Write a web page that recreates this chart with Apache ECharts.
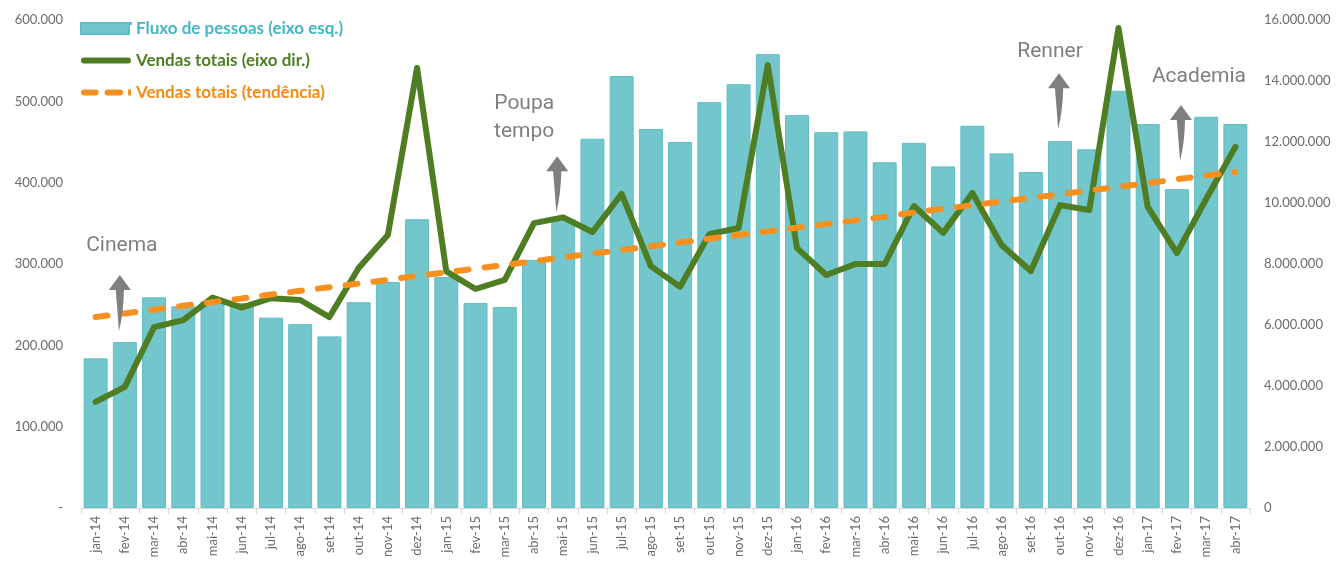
<!DOCTYPE html>
<html>
<head>
<meta charset="utf-8">
<script src="https://cdn.jsdelivr.net/npm/echarts@6/dist/echarts.min.js"></script>
<style>
  html, body { margin: 0; padding: 0; background: #fff; }
  #chart { width: 1338px; height: 565px; }
</style>
</head>
<body>
<div id="chart"></div>
<script>
const meses = [
  "jan-14", "fev-14", "mar-14", "abr-14", "mai-14", "jun-14", "jul-14", "ago-14", "set-14", "out-14", "nov-14", "dez-14",
  "jan-15", "fev-15", "mar-15", "abr-15", "mai-15", "jun-15", "jul-15", "ago-15", "set-15", "out-15", "nov-15", "dez-15",
  "jan-16", "fev-16", "mar-16", "abr-16", "mai-16", "jun-16", "jul-16", "ago-16", "set-16", "out-16", "nov-16", "dez-16",
  "jan-17", "fev-17", "mar-17", "abr-17"
];

// fluxo de pessoas (eixo esq.)
const fluxo = [
  184000, 204000, 259000, 248000, 254000, 252000, 234000, 226000, 211000, 253000, 278000, 355000,
  284000, 252000, 247000, 305000, 355000, 454000, 531000, 466000, 450000, 499000, 521000, 558000,
  483000, 462000, 463000, 425000, 449000, 420000, 470000, 436000, 413000, 451000, 441000, 513000,
  472000, 392000, 481000, 472000
];

// vendas totais (eixo dir.)
const vendas = [
  3480000, 3970000, 5930000, 6160000, 6900000, 6570000, 6880000, 6820000, 6260000, 7870000, 8950000, 14430000,
  7760000, 7180000, 7480000, 9340000, 9530000, 9050000, 10300000, 7930000, 7250000, 8980000, 9180000, 14520000,
  8520000, 7640000, 8000000, 8000000, 9900000, 9020000, 10330000, 8620000, 7770000, 9930000, 9770000, 15740000,
  9870000, 8360000, 10130000, 11840000
];

// vendas totais (tendência)
const tendencia = [
  6260000, 6380000, 6500000, 6630000, 6750000, 6870000, 7000000, 7120000, 7240000, 7360000, 7480000, 7610000,
  7730000, 7850000, 7970000, 8090000, 8220000, 8340000, 8460000, 8580000, 8710000, 8830000, 8950000, 9070000,
  9190000, 9310000, 9430000, 9550000, 9690000, 9810000, 9930000, 10050000, 10170000, 10290000, 10410000, 10530000,
  10650000, 10780000, 10900000, 11020000
];

const anotacoes = [
  { nome: "Cinema", mes: "fev-14", valor: 252000, dx: -5, dist: 15, tx: 2 },
  { nome: "Poupa\ntempo", mes: "mai-15", valor: 398000, dx: -6, dist: 11, tx: -33 },
  { nome: "Renner", mes: "out-16", valor: 500000, dx: -1, dist: 8, tx: -9 },
  { nome: "Academia", mes: "fev-17", valor: 461000, dx: 4, dist: 14, tx: 18 }
];

// seta curva cinza
const seta = "path://M12,0 L24,15 L16.5,15 Q16,38 11,56 Q9.5,36 7.5,15 L0,15 Z";

// ícones da legenda
const iconeLinha = "path://M3,0 H48 A3,3 0 0 1 48,6 H3 A3,3 0 0 1 3,0 Z";
const iconeTracejado = "path://M3,0 H15 A3,3 0 0 1 15,6 H3 A3,3 0 0 1 3,0 Z M27,0 H40 A3,3 0 0 1 40,6 H27 A3,3 0 0 1 27,0 Z M48,0 H51 V6 H48 Z";

function fmt(v) {
  if (v === 0) return "-";
  return String(v).replace(/\B(?=(\d{3})+(?!\d))/g, ".");
}

const chart = echarts.init(document.getElementById("chart"));

const option = {
  animation: false,
  textStyle: { fontFamily: "Lato, 'Open Sans', sans-serif" },
  legend: {
    orient: "vertical",
    left: 80,
    top: 20,
    padding: 0,
    itemWidth: 50,
    itemHeight: 11,
    itemGap: 15,
    textStyle: { fontSize: 17, fontWeight: "bold" },
    data: [
      { name: "Fluxo de pessoas (eixo esq.)", icon: "path://M0,0 H48 V11 H0 Z M49,0 H50 V1 H49 Z", textStyle: { color: "#45B7C4" } },
      { name: "Vendas totais (eixo dir.)", icon: iconeLinha, textStyle: { color: "#4E7D23" } },
      { name: "Vendas totais (tendência)", icon: iconeTracejado, textStyle: { color: "#F58A12" } }
    ]
  },
  grid: { left: 81, right: 88, top: 20, bottom: 57 },
  xAxis: {
    type: "category",
    data: meses,
    boundaryGap: true,
    axisLine: { lineStyle: { color: "#D9D9D9", width: 1 } },
    axisTick: { show: true, length: 6, lineStyle: { color: "#D9D9D9" } },
    axisLabel: { rotate: 90, color: "#6b6b6b", fontSize: 13, margin: 8, interval: 0 }
  },
  yAxis: [
    {
      type: "value",
      min: 0,
      max: 600000,
      interval: 100000,
      splitLine: { show: false },
      axisLine: { show: false },
      axisTick: { show: false },
      axisLabel: { color: "#6b6b6b", fontSize: 13, margin: 18, formatter: fmt }
    },
    {
      type: "value",
      min: 0,
      max: 16000000,
      interval: 2000000,
      splitLine: { show: false },
      axisLine: { show: false },
      axisTick: { show: false },
      axisLabel: { color: "#6b6b6b", fontSize: 13, margin: 14, formatter: (v) => (v === 0 ? "0" : fmt(v)) }
    }
  ],
  series: [
    {
      name: "Fluxo de pessoas (eixo esq.)",
      type: "bar",
      data: fluxo,
      yAxisIndex: 0,
      barCategoryGap: "18%",
      itemStyle: { color: "#72C6CC", borderColor: "#5FBEC5", borderWidth: 1 },
      markPoint: {
        silent: true,
        data: anotacoes.map((a) => ({
          coord: [a.mes, a.valor],
          symbol: seta,
          symbolSize: [22, 56],
          symbolKeepAspect: false,
          symbolOffset: [a.dx, 0],
          itemStyle: { color: "#7F7F7F" },
          label: {
            show: true,
            formatter: a.nome,
            position: "top",
            distance: a.dist,
            offset: [a.tx, 0],
            color: "#7F7F7F",
            fontSize: 21,
            lineHeight: 28,
            fontFamily: "Roboto, sans-serif"
          }
        }))
      }
    },
    {
      name: "Vendas totais (eixo dir.)",
      type: "line",
      data: vendas,
      yAxisIndex: 1,
      symbol: "none",
      lineStyle: { color: "#4E7D23", width: 6, cap: "round", join: "round" },
      itemStyle: { color: "#4E7D23" }
    },
    {
      name: "Vendas totais (tendência)",
      type: "line",
      data: tendencia,
      yAxisIndex: 1,
      symbol: "none",
      lineStyle: { color: "#F7901E", width: 6, type: [12, 16], cap: "round" },
      itemStyle: { color: "#F7901E" }
    }
  ]
};

chart.setOption(option);
</script>
</body>
</html>
